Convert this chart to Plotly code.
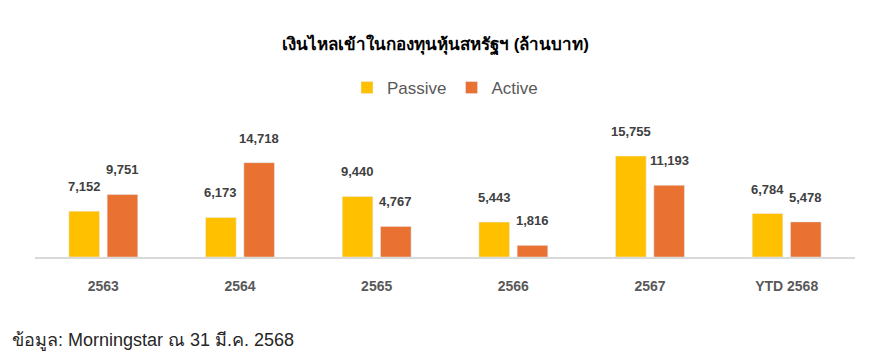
import plotly.graph_objects as go

categories = ["2563", "2564", "2565", "2566", "2567", "YTD 2568"]
passive = [7152, 6173, 9440, 5443, 15755, 6784]
active = [9751, 14718, 4767, 1816, 11193, 5478]

PASSIVE_COLOR = "#FFC000"
ACTIVE_COLOR = "#E97132"
LABEL_COLOR = "#404040"
FONT = "Liberation Sans, Arial, sans-serif"

fig = go.Figure()
fig.add_trace(go.Bar(name="Passive", x=categories, y=passive, marker_color=PASSIVE_COLOR))
fig.add_trace(go.Bar(name="Active", x=categories, y=active, marker_color=ACTIVE_COLOR))

# category axis: annotations use the category index
for vals, shift in ((passive, -19.25), (active, 19.25)):
    for i, v in enumerate(vals):
        fig.add_annotation(x=i, y=v, xref="x", yref="y", text=f"{v:,}", showarrow=False,
                           xshift=shift, yshift=15, yanchor="bottom",
                           font=dict(family=FONT, size=13, color=LABEL_COLOR, weight="bold"))

fig.add_annotation(text="ข้อมูล: Morningstar ณ 31 มี.ค. 2568", xref="paper", yref="paper",
                   x=-25/820, y=-83/137, xanchor="left", yanchor="middle", showarrow=False,
                   font=dict(family=FONT, size=18, color="#262626"))

fig.update_layout(
    width=871, height=352,
    margin=dict(l=35, r=16, t=120, b=95),
    paper_bgcolor="white", plot_bgcolor="white",
    barmode="group", bargap=0.44, bargroupgap=0.2,
    title=dict(text="<b>เงินไหลเข้าในกองทุนหุ้นสหรัฐฯ (ล้านบาท)</b>", x=0.5, xanchor="center",
               y=1 - 44/352, yanchor="middle", font=dict(family=FONT, size=17, color="#000000")),
    legend=dict(orientation="h", x=0.5, xanchor="center", y=1 + 32/137, yanchor="middle",
                font=dict(family=FONT, size=17, color="#595959"), itemwidth=30,
                bgcolor="rgba(0,0,0,0)"),
    showlegend=True,
)
fig.update_xaxes(type="category", range=[-0.5, len(categories) - 0.5], showline=True,
                 linecolor="#D9D9D9", linewidth=2, showgrid=False,
                 ticks="", ticklabelstandoff=15,
                 tickfont=dict(family=FONT, size=14, color="#595959", weight="bold"))
fig.update_yaxes(visible=False, range=[0, 15755 * 137 / 101], showgrid=False)

fig.write_html("out.html")
